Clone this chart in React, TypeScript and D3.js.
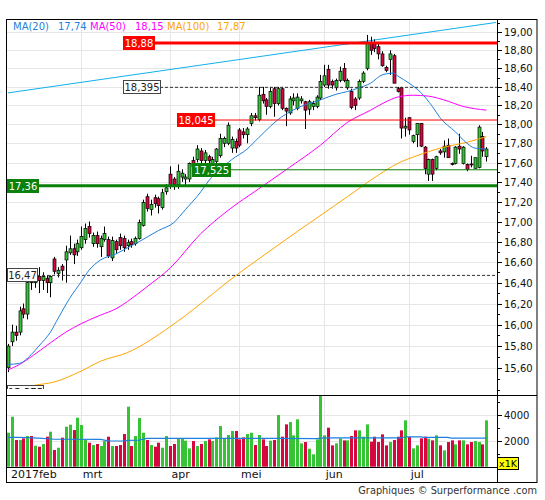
import React from "react";
import * as d3 from "d3";

// ---------- DATA ----------
const opens = [15.60,15.84,15.93,15.93,16.15,16.10,16.45,16.40,16.46,16.42,16.44,16.40,16.63,16.49,16.56,16.62,16.69,16.73,16.70,16.74,
16.82,16.95,16.78,16.86,16.75,16.82,16.82,16.64,16.80,16.84,16.83,16.76,16.80,16.78,16.83,16.96,17.25,17.12,17.24,17.23,
17.14,17.30,17.48,17.43,17.37,17.45,17.43,17.43,17.62,17.63,17.72,17.62,17.66,17.57,17.61,17.67,17.80,17.80,17.75,17.82,
17.94,17.92,17.89,18.01,18.09,18.05,18.32,18.26,18.19,18.38,18.22,18.38,18.17,18.12,18.25,18.17,18.25,18.24,18.16,18.19,
18.19,18.28,18.42,18.59,18.46,18.39,18.47,18.60,18.39,18.35,18.27,18.28,18.46,18.60,18.88,18.87,18.84,18.76,18.61,18.70,
18.74,18.38,18.39,17.96,18.07,17.82,17.89,18.01,17.76,17.48,17.63,17.54,17.72,17.71,17.78,17.59,17.59,17.77,17.59,17.58,
17.585,17.54,17.55,17.87,17.66];
const highs = [15.82,16.00,15.99,16.17,16.20,16.43,16.50,16.48,16.55,16.50,16.47,16.47,16.65,16.55,16.58,16.76,16.86,16.78,16.82,16.95,
16.98,17.00,16.89,16.90,16.86,16.95,16.85,16.85,16.82,16.88,16.86,16.82,16.83,16.85,17.02,17.22,17.28,17.22,17.27,17.25,
17.33,17.38,17.56,17.45,17.58,17.53,17.48,17.60,17.66,17.78,17.75,17.73,17.68,17.66,17.75,17.90,17.87,18.02,17.87,17.85,
17.96,17.96,17.97,18.12,18.12,18.40,18.40,18.28,18.40,18.40,18.40,18.40,18.18,18.30,18.33,18.33,18.30,18.25,18.26,18.25,
18.31,18.53,18.64,18.64,18.48,18.49,18.62,18.66,18.49,18.38,18.29,18.48,18.57,18.97,18.95,18.92,18.87,18.79,18.63,18.80,
18.76,18.40,18.40,18.07,18.07,17.89,18.01,18.01,17.77,17.64,17.64,17.67,17.74,17.83,17.85,17.60,17.77,17.90,17.77,17.59,
17.67,17.65,17.99,17.92,17.76];
const lows = [15.56,15.80,15.85,15.90,16.06,16.05,16.33,16.35,16.30,16.33,16.30,16.26,16.48,16.45,16.42,16.40,16.67,16.58,16.66,16.72,
16.78,16.84,16.75,16.74,16.65,16.80,16.64,16.61,16.68,16.72,16.70,16.72,16.74,16.76,16.82,16.95,17.10,17.06,17.14,17.08,
17.12,17.27,17.33,17.32,17.33,17.40,17.36,17.40,17.50,17.60,17.58,17.58,17.55,17.50,17.55,17.65,17.76,17.78,17.70,17.70,
17.76,17.85,17.80,17.98,18.04,18.03,18.22,18.10,18.17,18.08,18.20,18.15,17.98,18.10,18.20,18.15,18.22,17.95,18.10,18.15,
18.17,18.26,18.40,18.38,18.38,18.36,18.45,18.45,18.37,18.16,18.15,18.26,18.44,18.58,18.75,18.78,18.70,18.62,18.56,18.53,
18.44,18.34,17.85,17.87,17.89,17.80,17.76,17.76,17.48,17.41,17.41,17.52,17.68,17.65,17.65,17.57,17.58,17.69,17.58,17.51,
17.55,17.54,17.54,17.66,17.61];
const closes = [15.80,15.93,15.90,16.13,16.10,16.40,16.40,16.45,16.42,16.46,16.40,16.46,16.51,16.52,16.52,16.70,16.73,16.67,16.78,16.85,
16.93,16.88,16.86,16.78,16.83,16.88,16.66,16.81,16.72,16.76,16.74,16.79,16.77,16.83,16.99,17.19,17.13,17.17,17.18,17.16,
17.29,17.34,17.36,17.37,17.51,17.49,17.45,17.59,17.56,17.74,17.62,17.70,17.62,17.63,17.74,17.85,17.85,17.99,17.84,17.75,
17.78,17.89,17.95,18.09,18.07,18.31,18.25,18.19,18.35,18.22,18.38,18.17,18.14,18.27,18.28,18.29,18.27,18.15,18.24,18.22,
18.29,18.46,18.52,18.42,18.42,18.47,18.57,18.47,18.47,18.18,18.20,18.46,18.55,18.88,18.80,18.82,18.76,18.63,18.58,18.76,
18.44,18.35,17.96,17.98,17.94,17.88,18.01,17.77,17.54,17.63,17.48,17.66,17.70,17.77,17.65,17.58,17.76,17.74,17.76,17.53,
17.575,17.65,17.97,17.72,17.74];
const volumes = [2615,3846,2051,2051,2180,2359,2359,1615,1538,1744,2308,2692,1282,1462,2231,3077,3230,2820,3769,3205,
2051,1846,1667,1744,1590,1974,2308,1590,1590,1667,2513,4615,1590,2359,3744,2615,2051,1667,1538,1846,
1462,2359,1590,1744,2180,2180,2000,1410,1974,1590,1744,1974,2103,1974,2256,3128,2180,2436,2744,2744,
2103,2256,2513,2615,1667,2436,2103,1590,2000,2051,3974,2308,3256,3436,2410,3641,1795,1897,1385,949,
2103,5513,2410,3000,1641,1795,2179,2026,2026,2359,2795,2795,2308,3256,1923,2308,1897,2487,1641,1897,
2051,2308,2795,3564,2282,1410,1641,2179,2308,2154,2026,2410,1641,1256,1897,2026,1718,2026,2026,1718,
1897,1974,1897,1718,3564];

const monthLabels = ["2017feb", "mrt", "apr", "mei", "jun", "jul"];
const monthStarts = [0, 19, 42, 60, 82, 104];

// moving averages: [candle index, value]
const ma20 = [[0,15.63],[3,15.64],[6,15.72],[8,15.80],[11,15.93],[13,16.06],[16,16.25],[19,16.41],[21,16.52],[24,16.62],[28,16.68],[31,16.74],[34,16.80],[39,16.91],[43,16.99],[46,17.12],[50,17.30],[52,17.41],[55,17.53],[58,17.63],[62,17.74],[65,17.86],[71,18.08],[76,18.19],[81,18.26],[85,18.32],[88,18.35],[91,18.39],[94,18.44],[97,18.53],[100,18.55],[101,18.52],[104,18.44],[107,18.34],[110,18.19],[112,18.07],[116,17.92],[119,17.80],[121,17.75],[124,17.74]];
const ma50 = [[0,15.58],[3,15.63],[6,15.70],[11,15.83],[15,15.93],[19,16.01],[24,16.09],[28,16.15],[31,16.22],[36,16.36],[42,16.54],[50,16.88],[57,17.11],[65,17.33],[73,17.55],[81,17.78],[88,18.02],[94,18.15],[98,18.24],[101,18.29],[105,18.31],[109,18.30],[113,18.26],[118,18.19],[124,18.15]];
const ma100 = [[0,15.38],[7,15.44],[12,15.47],[19,15.57],[24,15.66],[31,15.74],[42,15.98],[50,16.20],[57,16.41],[65,16.63],[75,16.90],[88,17.25],[96,17.47],[101,17.59],[106,17.67],[113,17.76],[119,17.81],[124,17.87]];
const volumeAverage = [[0,2260],[3,2250],[8,2200],[12,2110],[24,2100],[26,1980],[30,1975],[31,2030],[34,2040],[36,2180],[50,2180],[70,2180],[80,2160],[82,2210],[102,2210],[103,2300],[107,2300],[108,2250],[114,2250],[115,2200],[124,2200]];
const trendLine = [[0, 18.335], [126.5, 19.11]];

const levelValues = [18.88, 18.395, 18.045, 17.525, 17.36, 16.47, 15.375];
const levelTexts = ["18,88", "18,395", "18,045", "17,525", "17,36", "16,47", "15,375"];

const priceMajor = d3.range(78, 96).map((k) => k / 5);
const priceMinor = d3.range(154, 192).map((k) => k / 10);
const volumeMajor = [2000, 4000];
const volumeMinor = [1000, 3000, 5000];

// ---------- STYLES ----------
const RED = "#ff0000";
const GREEN = "#0b800b";
const UP = "#36c336";
const DOWN = "#d7063f";
const C20 = "#1f7fdc";
const C50 = "#ff00ff";
const C100 = "#ffa500";
const GRID = "#e6e6e6";
const levelStyles = [
  { boxX: 123, boxW: 31, fill: RED, txt: "#fff", stroke: RED, lw: 3, dash: "", from: 154 },
  { boxX: 123, boxW: 37, fill: "#fff", txt: "#222", stroke: "#333", lw: 1, dash: "3,2", from: 160 },
  { boxX: 177, boxW: 37, fill: RED, txt: "#fff", stroke: RED, lw: 1, dash: "", from: 214 },
  { boxX: 192, boxW: 38, fill: GREEN, txt: "#fff", stroke: GREEN, lw: 1, dash: "", from: 230 },
  { boxX: 7, boxW: 31, fill: GREEN, txt: "#fff", stroke: GREEN, lw: 3, dash: "", from: 7 },
  { boxX: 7, boxW: 30, fill: "#fff", txt: "#222", stroke: "#333", lw: 1, dash: "3,2", from: 37 },
  { boxX: 7, boxW: 36, fill: "#fff", txt: "#222", stroke: "#333", lw: 1, dash: "3,2", from: 43 },
];

const comma = (v: number, d: number) => v.toFixed(d).replace(".", ",");

export default function App() {
  const L = 7, R = 497, T = 19, PB = 395, VB = 467, AB = 482, FR = 537;
  const CLIPB = 389;
  const x = d3.scaleLinear().domain([0, 124]).range([8, 486.3]);
  const y = d3.scaleLog().domain([15.352, 19.149]).range([PB, T]);
  const yv = d3.scaleLinear().domain([0, 5515]).range([466.7, PB]);

  const maLine = d3
    .line<number[]>()
    .x((d) => x(d[0]))
    .y((d) => y(d[1]))
    .curve(d3.curveMonotoneX);
  const volLine = d3
    .line<number[]>()
    .x((d) => x(d[0]))
    .y((d) => yv(d[1]));

  const n = closes.length;
  const idx = d3.range(n);
  const font = "DejaVu Sans, Verdana, sans-serif";
  const legend = [
    { name: "MA(20)", data: ma20, color: C20, x: 13, dv: 45 },
    { name: "MA(50)", data: ma50, color: C50, x: 90, dv: 45 },
    { name: "MA(100)", data: ma100, color: C100, x: 167, dv: 50 },
  ];

  return (
    <svg
      width={545}
      height={500}
      style={{ position: "absolute", left: 0, top: 0, background: "#fff" }}
      fontFamily={font}
    >
      <defs>
        <clipPath id="pc">
          <rect x={L} y={T} width={R - L} height={CLIPB - T} />
        </clipPath>
        <clipPath id="vc">
          <rect x={L} y={PB} width={R - L} height={VB - PB} />
        </clipPath>
      </defs>

      {/* grid */}
      {priceMajor.map((v) => (
        <line key={"g" + v} x1={L} x2={R} y1={Math.round(y(v)) + 0.5} y2={Math.round(y(v)) + 0.5} stroke={GRID} />
      ))}
      {volumeMajor.map((v) => (
        <line key={"gv" + v} x1={L} x2={R} y1={Math.round(yv(v)) + 0.5} y2={Math.round(yv(v)) + 0.5} stroke={GRID} />
      ))}
      {monthStarts.slice(1).map((m) => (
        <line key={"gm" + m} x1={Math.round(x(m)) + 0.5} x2={Math.round(x(m)) + 0.5} y1={T} y2={VB} stroke={GRID} />
      ))}

      <g clipPath="url(#pc)">
        {/* trend line */}
        <line
          x1={x(trendLine[0][0])}
          y1={y(trendLine[0][1])}
          x2={x(trendLine[1][0])}
          y2={y(trendLine[1][1])}
          stroke="#10b0f0"
          strokeWidth={1}
        />
        {/* candles */}
        {idx.map((i) => {
          const up = closes[i] >= opens[i];
          const cx = Math.round(x(i)) + 0.5;
          const top = y(Math.max(opens[i], closes[i]));
          const bot = y(Math.min(opens[i], closes[i]));
          return (
            <g key={"c" + i}>
              <line x1={cx} x2={cx} y1={y(highs[i])} y2={y(lows[i])} stroke="#000" strokeWidth={1} />
              <rect
                x={cx - 1.5}
                y={top}
                width={3}
                height={Math.max(1, bot - top)}
                fill={up ? UP : DOWN}
                stroke="#000"
                strokeWidth={0.7}
              />
            </g>
          );
        })}
        {/* moving averages */}
        <path d={maLine(ma100) || ""} fill="none" stroke={C100} strokeWidth={1} />
        <path d={maLine(ma50) || ""} fill="none" stroke={C50} strokeWidth={1} />
        <path d={maLine(ma20) || ""} fill="none" stroke={C20} strokeWidth={1} />
        {/* levels */}
        {levelValues.map((v, k) => {
          const s = levelStyles[k];
          const ly = y(v);
          return (
            <line
              key={"l" + k}
              x1={s.from}
              x2={R}
              y1={ly}
              y2={ly}
              stroke={s.stroke}
              strokeWidth={s.lw}
              strokeDasharray={s.dash || undefined}
            />
          );
        })}
        {levelValues.map((v, k) => {
          const s = levelStyles[k];
          const ly = Math.round(y(v));
          return (
            <g key={"lb" + k}>
              <rect
                x={s.boxX + 0.5}
                y={ly - 6.5}
                width={s.boxW}
                height={13}
                fill={s.fill}
                stroke={s.fill === "#fff" ? "#444" : s.fill}
                strokeWidth={1}
              />
              <text x={s.boxX + 0.5 + s.boxW / 2} y={ly + 4} fontSize={10} textAnchor="middle" fill={s.txt}>
                {levelTexts[k]}
              </text>
            </g>
          );
        })}
      </g>

      {/* volume */}
      <g clipPath="url(#vc)">
        {idx.map((i) => {
          const up = closes[i] >= opens[i];
          const cx = Math.round(x(i)) + 0.5;
          return (
            <rect
              key={"v" + i}
              x={cx - 1.5}
              y={yv(volumes[i])}
              width={3}
              height={yv(0) - yv(volumes[i])}
              fill={up ? UP : DOWN}
            />
          );
        })}
        <path d={volLine(volumeAverage) || ""} fill="none" stroke={C20} strokeWidth={1.2} />
      </g>

      {/* legend */}
      {legend.map((l) => (
        <text key={l.name} x={l.x} y={30} fontSize={10} fill={l.color}>
          {l.name}
          <tspan x={l.x + l.dv}>{comma(l.data[l.data.length - 1][1], 2)}</tspan>
        </text>
      ))}

      {/* right axis */}
      {priceMinor.map((v) => (
        <line key={"tm" + v} x1={R} x2={R + 3} y1={Math.round(y(v)) + 0.5} y2={Math.round(y(v)) + 0.5} stroke="#000" />
      ))}
      {priceMajor.map((v) => (
        <g key={"tM" + v}>
          <line x1={R} x2={R + 5} y1={Math.round(y(v)) + 0.5} y2={Math.round(y(v)) + 0.5} stroke="#000" />
          <text x={R + 7} y={y(v) + 4} fontSize={10} fill="#111">
            {comma(v, 2)}
          </text>
        </g>
      ))}
      {volumeMinor.map((v) => (
        <line key={"vm" + v} x1={R} x2={R + 3} y1={Math.round(yv(v)) + 0.5} y2={Math.round(yv(v)) + 0.5} stroke="#000" />
      ))}
      {volumeMajor.map((v) => (
        <g key={"vM" + v}>
          <line x1={R} x2={R + 5} y1={Math.round(yv(v)) + 0.5} y2={Math.round(yv(v)) + 0.5} stroke="#000" />
          <text x={R + 7} y={yv(v) + 4} fontSize={10} fill="#111">
            {v}
          </text>
        </g>
      ))}

      {/* month labels */}
      {monthLabels.map((m, k) => (
        <text key={m} x={x(monthStarts[k]) + (k === 0 ? 3 : 1.5)} y={478} fontSize={11} fill="#111">
          {m}
        </text>
      ))}

      {/* frame */}
      <g stroke="#000" strokeWidth={1} fill="none">
        <rect x={L - 0.5} y={T + 0.5} width={FR - L + 0.5} height={AB - T} />
        <line x1={R + 0.5} x2={R + 0.5} y1={T} y2={AB} />
        <line x1={L} x2={FR} y1={PB + 0.5} y2={PB + 0.5} />
        <line x1={L} x2={R} y1={VB + 0.5} y2={VB + 0.5} />
      </g>

      {/* x1K */}
      <rect x={497.5} y={457.5} width={21} height={12} fill="#ffff00" stroke="#000" />
      <text x={508} y={467} fontSize={9.5} textAnchor="middle" fill="#000">
        x1K
      </text>

      <text x={537} y={494} fontSize={9.8} textAnchor="end" fill="#333">
        Graphiques © Surperformance .com
      </text>
    </svg>
  );
}
